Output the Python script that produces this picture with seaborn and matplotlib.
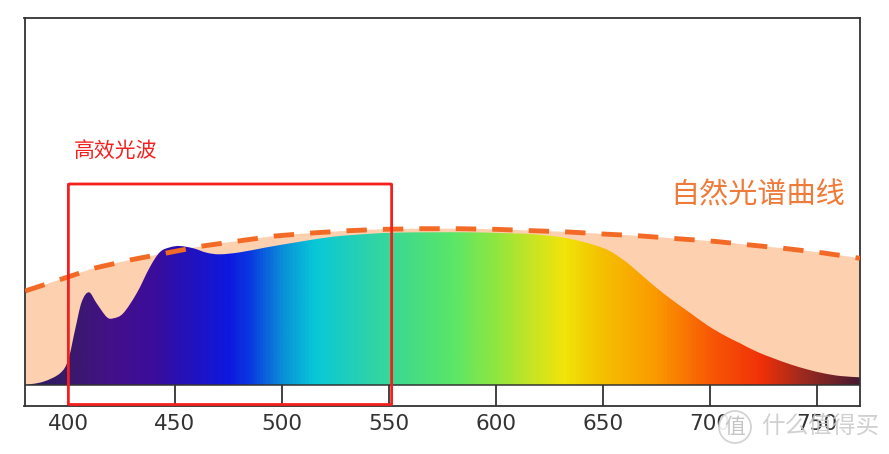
import numpy as np
import pandas as pd
import matplotlib
matplotlib.use('Agg')
import matplotlib.pyplot as plt
import seaborn as sns
from matplotlib.colors import LinearSegmentedColormap, to_rgb
from matplotlib.patches import Circle, FancyBboxPatch, PathPatch
from matplotlib.path import Path

# Natural light curve (dashed)
natural_nm = [380, 400, 412.6, 429, 446, 463, 479.6, 496.7, 514, 531, 547, 565, 582, 599.5,
              616.8, 634, 650, 668, 684.6, 701.9, 718.7, 736, 753, 770]
natural_val = [94, 108, 117, 125, 132, 139, 144, 149, 152, 154.3, 155.7, 156.3, 156.3, 155.7,
               154.3, 153, 151, 149, 146.3, 143.7, 140, 136.3, 132, 126.7]

# Lamp spectrum (gradient area)
spectrum_nm = [380, 388.5, 396.3, 400.1, 403.3, 406.4, 409.8, 413.4, 418.1, 421.2, 425.8, 432.1,
               438.3, 443, 447.7, 452.3, 458.6, 464.8, 471, 480.4, 492.9, 508.4, 523.9, 539.6,
               551.9, 570.6, 586.3, 601.9, 617.5, 633.3, 650, 659.5, 667.4, 675, 682.9, 690.7,
               698.5, 706.3, 714, 721.8, 729.6, 737.4, 745.2, 753, 760.8, 770]
spectrum_val = [0, 3.3, 11.7, 25, 55, 83, 92.7, 81.7, 68, 66.7, 71.7, 91.7,
                118, 133, 137.7, 139, 136.7, 132.3, 130.7, 132.7, 137.7, 143.3, 148.3, 151,
                152.3, 152.7, 152.7, 152, 150.7, 146.7, 137, 125, 111, 97, 84, 72,
                60, 50, 41.7, 33.3, 26.7, 20.7, 15.7, 11.7, 9, 7.7]

# Colours of the spectrum by wavelength
stop_nm = [380, 400, 420, 440, 450, 475, 485, 500, 515, 535, 560, 580, 600, 620, 632, 650, 675,
           700, 725, 745, 770]
stop_colors = ['#2a1a5e', '#3a1a6a', '#43108a', '#3b0d9b', '#2a10b0', '#0d18e0', '#0a3ae0',
               '#0a8fd8', '#08c8d8', '#25d0b5', '#45dc85', '#5ae668', '#8fe640', '#d0e41f',
               '#f0e50a', '#f5c000', '#fb9a00', '#f85a05', '#f03008', '#9a2a20', '#4a1a30']

tick_nm = [400, 450, 500, 550, 600, 650, 700, 750]


def smooth_area(xs, ys):
    # closed bezier outline through the read points, down to the baseline
    pts = np.column_stack([xs, ys])
    verts = [pts[0]]
    codes = [Path.MOVETO]
    for i in range(len(pts) - 1):
        before = pts[max(i - 1, 0)]
        after = pts[min(i + 2, len(pts) - 1)]
        verts += [pts[i] + (pts[i + 1] - before) / 6, pts[i + 1] - (after - pts[i]) / 6, pts[i + 1]]
        codes += [Path.CURVE4] * 3
    verts += [(xs[-1], 0), (xs[0], 0), pts[0]]
    codes += [Path.LINETO, Path.LINETO, Path.CLOSEPOLY]
    return Path(verts, codes)


sns.set_style('white')
plt.rcParams['font.family'] = ['DejaVu Sans', 'Noto Sans CJK SC']
cjk = ['Noto Sans CJK SC', 'DejaVu Sans']

fig = plt.figure(figsize=(8.89, 4.54), dpi=100)
ax = fig.add_axes([24.5 / 889, 48 / 454, 835.5 / 889, 388 / 454])

# Peach area under the natural curve
ax.add_patch(PathPatch(smooth_area(natural_nm, natural_val), fc='#FDD0B0', lw=0, zorder=1))

# Gradient clipped to the spectrum shape
norm_stops = [(n - 380) / 390 for n in stop_nm]
cmap = LinearSegmentedColormap.from_list('spectrum', list(zip(norm_stops, [to_rgb(c) for c in stop_colors])))
im = ax.imshow(np.linspace(0, 1, 800).reshape(1, -1), cmap=cmap, aspect='auto',
               extent=[380, 770, 0, 170], interpolation='bilinear', zorder=2)
im.set_clip_path(smooth_area(spectrum_nm, spectrum_val), transform=ax.transData)

# Dashed natural curve
natural = pd.DataFrame({'nm': natural_nm, 'val': natural_val})
sns.lineplot(data=natural, x='nm', y='val', color='#F26A25', lw=3.5, ax=ax, zorder=3)
ax.lines[-1].set_linestyle((0, (4.2, 3.3)))

ax.axhline(0, color='#333333', lw=1.1, zorder=4)

ax.set_xlim(379.7, 770)
ax.set_ylim(-21, 367)
ax.set_xlabel('')
ax.set_ylabel('')
ax.set_xticks(tick_nm)
ax.set_xticklabels([str(t) for t in tick_nm])
ax.set_yticks([])
ax.tick_params(axis='x', direction='in', length=15, width=1.3, color='#333333',
               labelsize=15.5, labelcolor='#333333', pad=6, bottom=True)
for s in ax.spines.values():
    s.set_visible(True)
    s.set_color('#333333')
    s.set_linewidth(1.3)

# Red box and labels
box = FancyBboxPatch((400.2, -19.5), 151, 220.5, boxstyle='round,pad=0,rounding_size=0.6',
                     fc='none', ec='#F5201E', lw=2.0, zorder=5, mutation_aspect=1)
ax.add_patch(box)
ax.text(402.5, 234, '高效光波', color='#F5201E', fontsize=15, family=cjk, va='center', ha='left')
ax.text(722.4, 190, '自然光谱曲线', color='#EE7B3A', fontsize=21, family=cjk, va='center', ha='center')

# Watermark over the bottom right corner
wm = fig.add_axes([0, 0, 1, 1], facecolor='none')
wm.set_xlim(0, 889)
wm.set_ylim(454, 0)
wm.axis('off')
wm.add_patch(Circle((735, 427), 16, fc='white', ec='#cfcfcf', lw=1.3, alpha=0.9))
wm.text(735, 427, '值', color='#c4c4c4', fontsize=15, family=cjk, ha='center', va='center')
wm.text(820, 427, '什么值得买', color='#c8c8c8', alpha=0.85, fontsize=17, family=cjk, ha='center', va='center')

fig.savefig('out.png', dpi=100)
